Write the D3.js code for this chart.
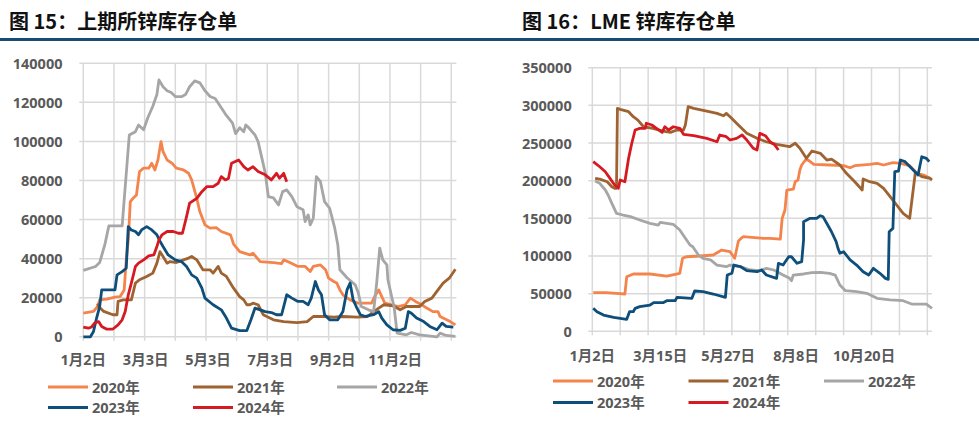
<!DOCTYPE html>
<html><head><meta charset="utf-8">
<script src="https://cdn.jsdelivr.net/npm/d3@7"></script>
<style>
html,body{margin:0;padding:0;background:#fff;}
svg{display:block;font-family:"Open Sans","Noto Sans CJK SC",sans-serif;}
</style></head>
<body>
<svg id="c" width="979" height="423"></svg>
<script>
// ---------- data ----------
const seriesNames = ["2020年","2021年","2022年","2023年","2024年"];
const seriesColors = ["#F4844C","#9E6331","#A6A6A6","#0E4E7B","#D51A22"];

// SHFE (day index from 1月2日, value)
const shfe2020 = [[0,12100],[10,13000],[14,15500],[16,18900],[23,19300],[31,20300],[36,20600],[40,24000],[42,39400],[44,49600],[46,69200],[49,71100],[52,72600],[55,84600],[59,86300],[64,86300],[67,88800],[70,85400],[73,90500],[76,99900],[78,94800],[82,90500],[87,88800],[91,86300],[98,85400],[103,83700],[106,80300],[111,70900],[114,64100],[119,57300],[124,55600],[130,55900],[135,53900],[144,52200],[147,47500],[153,43600],[163,41900],[166,42800],[173,38500],[186,38000],[194,37500],[196,39400],[202,38000],[210,36000],[217,36000],[222,33400],[225,36000],[232,36800],[237,34300],[240,30000],[245,28300],[248,27500],[251,24000],[254,21500],[261,18900],[269,17200],[277,17200],[282,17200],[285,20600],[289,24000],[292,20600],[295,17200],[302,16400],[308,15500],[315,16400],[320,19800],[325,18100],[331,16400],[336,14700],[342,12900],[347,12900],[349,10400],[352,9600],[359,7800],[364,6100]];
const shfe2021 = [[14,17000],[15,15500],[20,13000],[29,11300],[33,11300],[34,18100],[39,18900],[47,18900],[51,27500],[55,29200],[62,30900],[68,32600],[72,37700],[75,43600],[78,41100],[82,37700],[85,38500],[91,38000],[98,39400],[103,40300],[106,41100],[111,39400],[117,34300],[124,34300],[127,32600],[132,36000],[135,32600],[140,30900],[147,24900],[153,20600],[157,18900],[160,16400],[163,16400],[166,17200],[171,16400],[176,11300],[186,8700],[196,7800],[209,7300],[219,7800],[225,10400],[235,10400],[245,10100],[254,10400],[268,10100],[278,10400],[284,12900],[289,14700],[294,16400],[303,15900],[310,13800],[316,15500],[323,15500],[329,15500],[334,18100],[341,19800],[347,24000],[352,27500],[358,30000],[364,34600]];
const shfe2022 = [[0,34000],[12,36000],[16,38000],[21,47000],[25,56800],[38,56800],[45,103300],[51,105000],[54,108400],[59,106000],[63,112000],[68,118000],[72,124000],[74,131500],[78,128000],[82,126000],[86,125000],[90,123000],[96,122900],[100,124000],[104,128000],[109,131000],[114,130000],[119,126000],[124,123000],[129,122000],[134,118000],[139,114000],[146,109400],[149,104000],[153,107000],[157,105000],[159,108400],[161,107500],[168,103300],[171,99900],[178,83900],[181,71800],[186,71100],[191,67500],[195,74300],[199,75200],[204,71800],[209,66600],[215,65000],[217,59000],[220,62400],[222,57300],[225,60700],[228,82000],[232,79400],[236,69200],[241,65800],[246,55600],[249,47000],[251,34300],[258,30200],[266,26600],[269,22500],[272,15500],[279,13800],[284,12900],[287,27500],[290,45400],[293,39400],[297,36800],[298,29200],[302,19800],[304,15500],[307,1900],[316,1000],[321,2200],[329,1000],[346,0],[349,1900],[355,700],[364,200]];
const shfe2023 = [[0,0],[7,0],[10,2700],[13,9600],[16,15500],[18,24000],[26,24000],[31,24000],[33,31700],[38,33400],[42,35100],[44,56400],[47,54700],[51,53900],[54,52200],[57,54700],[62,56400],[67,54700],[72,52200],[75,49000],[78,46200],[83,41900],[90,39400],[96,38500],[101,36000],[106,31700],[111,30000],[116,24900],[119,19800],[127,16400],[135,13800],[140,9600],[145,4400],[153,3200],[160,3200],[164,8700],[168,14700],[173,13800],[178,12900],[184,12400],[189,11300],[194,11300],[199,21500],[204,19800],[210,18100],[215,18100],[220,16400],[223,19800],[227,28300],[230,24000],[233,21500],[236,11300],[241,8700],[249,8700],[254,12900],[258,24000],[261,27500],[264,18900],[267,15500],[271,11300],[276,10400],[284,11300],[289,12900],[292,9600],[297,6100],[303,3600],[310,3300],[315,4400],[318,12900],[321,12100],[326,9600],[333,7800],[339,5300],[346,3600],[351,7000],[355,5300],[362,5000]];
const shfe2024 = [[0,5000],[5,4400],[8,5000],[11,7000],[15,7800],[18,5300],[23,3900],[29,4000],[34,6100],[38,8700],[41,12900],[44,21500],[47,27500],[51,36000],[54,37700],[59,39400],[64,41400],[69,41900],[72,46200],[74,49600],[77,52200],[82,53900],[88,53900],[93,53000],[97,53000],[101,61500],[104,68400],[111,70900],[116,74300],[121,76900],[127,76900],[132,78600],[135,82000],[139,80300],[142,81000],[145,88800],[152,90500],[157,87100],[161,85400],[166,87100],[171,84600],[178,82900],[184,80300],[189,83700],[192,81200],[196,83700],[199,79400]];

// LME
const lme2020 = [[1,51300],[15,51300],[26,50400],[35,49500],[37,72500],[44,76100],[62,76100],[80,73400],[94,77000],[97,96900],[101,99000],[116,100000],[130,101300],[139,107900],[148,105700],[153,96900],[157,120000],[160,123500],[162,125600],[184,123500],[191,123500],[202,122500],[204,150000],[207,161000],[209,187600],[216,188900],[218,198600],[221,200900],[223,214200],[225,220800],[229,227400],[232,227400],[238,221700],[255,220800],[270,219900],[277,217200],[282,219900],[298,221700],[306,223000],[313,220800],[323,223900],[331,223000],[341,219900],[349,209800],[356,207500],[363,203100]];
const lme2021 = [[3,203100],[8,202000],[16,198600],[21,192000],[24,189900],[26,189900],[27,296100],[30,294700],[39,291600],[44,284900],[49,280500],[55,271600],[65,269500],[76,265900],[84,264200],[91,267300],[98,267300],[100,273900],[103,298200],[109,296100],[123,292500],[134,289400],[141,286200],[144,289400],[148,284900],[155,276200],[166,262900],[177,256200],[187,251700],[198,248300],[212,245100],[218,249600],[223,243000],[230,229700],[236,239400],[245,236300],[252,227400],[257,228500],[266,220800],[273,209800],[282,198600],[290,187600],[291,202200],[298,198600],[306,196500],[313,189900],[320,178700],[327,167700],[334,156700],[341,150000],[347,209800],[349,209800],[354,205300],[363,203100],[365,200900]];
const lme2022 = [[3,199600],[8,196500],[14,187600],[17,181000],[21,169900],[26,156700],[33,154400],[41,152200],[51,147800],[62,143400],[71,141100],[73,144700],[87,142100],[94,134500],[100,123500],[105,114600],[108,112300],[114,101300],[119,96900],[127,94700],[134,88000],[144,85800],[148,88000],[159,86000],[170,81400],[180,80500],[187,83600],[195,81400],[205,74700],[212,70300],[214,67100],[216,74700],[227,76100],[236,77800],[245,78300],[255,77000],[261,74700],[266,61500],[272,53900],[284,52600],[295,50400],[306,43800],[320,41600],[334,40600],[343,36200],[359,36200],[365,30500]];
const lme2023 = [[1,30500],[5,26000],[12,21600],[23,18600],[30,17300],[37,15900],[40,26000],[44,26000],[46,30500],[51,32700],[62,34900],[66,38000],[76,38000],[80,40600],[89,40600],[91,45100],[107,43800],[110,53500],[119,52600],[130,49500],[143,45100],[145,74700],[150,77000],[152,88000],[159,86000],[166,80500],[177,79100],[182,81400],[187,74700],[198,70300],[200,90300],[205,88000],[211,99000],[214,99000],[220,90300],[225,92500],[227,121200],[227,145500],[234,150000],[241,150000],[245,153500],[248,152000],[254,138900],[257,132200],[262,119000],[264,110200],[266,103600],[270,105700],[277,94700],[284,88000],[291,79100],[297,74700],[302,83600],[309,77000],[315,70300],[318,69000],[319,132200],[323,136700],[325,211900],[329,212800],[331,227400],[336,225200],[343,216400],[350,207500],[354,231800],[359,229700],[362,225200]];
const lme2024 = [[1,225200],[8,218500],[14,211900],[19,203100],[24,194200],[28,189900],[30,200900],[35,198600],[39,229700],[42,247400],[46,267300],[51,269500],[57,269500],[58,276200],[64,273900],[69,269500],[75,264200],[78,271600],[82,267300],[87,271600],[94,269500],[98,261500],[109,259700],[123,256200],[134,251700],[137,260600],[144,258400],[148,254000],[155,256200],[161,260600],[166,254000],[173,243000],[177,240700],[180,262900],[186,259700],[191,251700],[196,247400],[200,240700]];

const shfeYTicks = [0,20000,40000,60000,80000,100000,120000,140000];
const lmeYTicks = [0,50000,100000,150000,200000,250000,300000,350000];
const gridDays = [0,30,60,90,120,150,180,210,240,270,300,330,360];
const shfeLabelDays = [0,61,122,183,244,305];
const shfeLabels = ["1月2日","3月3日","5月3日","7月3日","9月2日","11月2日"];
const lmeLabelDays = [0,73,146,219,292];
const lmeLabels = ["1月2日","3月15日","5月27日","8月8日","10月20日"];

// ---------- drawing ----------
const svg = d3.select("#c");
const txtCol = "#595959", gridCol = "#D9D9D9";

svg.append("text").attr("x",9).attr("y",20).attr("dominant-baseline","central")
  .style("font-family","'Noto Sans CJK SC',sans-serif").style("font-weight",700).style("font-size","20px").attr("fill","#111")
  .text("图 15：上期所锌库存仓单");
svg.append("text").attr("x",522).attr("y",20).attr("dominant-baseline","central")
  .style("font-family","'Noto Sans CJK SC',sans-serif").style("font-weight",700).style("font-size","20px").attr("fill","#111")
  .text("图 16：LME 锌库存仓单");
svg.append("rect").attr("x",0).attr("y",38).attr("width",979).attr("height",3).attr("fill","#174B72");

function chart(cfg){
  const g = svg.append("g");
  const x = d3.scaleLinear().domain([0,365]).range(cfg.xr);
  const y = d3.scaleLinear().domain([0,cfg.ymax]).range(cfg.yr);
  // horizontal grid
  g.selectAll(".hg").data(cfg.yTicks).join("line")
    .attr("x1",cfg.xr[0]-4).attr("x2",cfg.xr[1]).attr("y1",d=>y(d)).attr("y2",d=>y(d))
    .attr("stroke",gridCol).attr("stroke-width",1.5);
  // vertical grid
  g.selectAll(".vg").data(gridDays).join("line")
    .attr("x1",d=>x(d)).attr("x2",d=>x(d)).attr("y1",cfg.yr[1]).attr("y2",cfg.yr[0]+4)
    .attr("stroke",gridCol).attr("stroke-width",1.5);
  // y labels
  g.selectAll(".yl").data(cfg.yTicks).join("text")
    .attr("x",cfg.ylx).attr("y",d=>y(d)).attr("text-anchor","end").attr("dominant-baseline","central")
    .attr("fill",txtCol).style("font-weight",700).style("font-size","14.5px").text(d=>d);
  // x labels
  g.selectAll(".xl").data(cfg.labelDays).join("text")
    .attr("x",d=>x(d)).attr("y",cfg.xly).attr("text-anchor","middle").attr("dominant-baseline","central")
    .attr("fill",txtCol).style("font-weight",700).style("font-size","14.5px").text((d,i)=>cfg.labels[i]);
  // lines
  const line = d3.line().x(d=>x(d[0])).y(d=>y(d[1]));
  cfg.series.forEach((s,i)=>{
    g.append("path").datum(s).attr("d",line).attr("fill","none")
      .attr("stroke",seriesColors[i]).attr("stroke-width",2.8).attr("stroke-linejoin","round");
  });
  // legend
  const pos = [[0,0],[1,0],[2,0],[0,1],[1,1]];
  seriesNames.forEach((n,i)=>{
    const lx = cfg.legX[pos[i][0]], ly = cfg.legY[pos[i][1]];
    g.append("line").attr("x1",lx).attr("x2",lx+40).attr("y1",ly).attr("y2",ly)
      .attr("stroke",seriesColors[i]).attr("stroke-width",3);
    g.append("text").attr("x",lx+44).attr("y",ly).attr("dominant-baseline","central")
      .attr("fill",txtCol).style("font-weight",700).style("font-size","14.5px").text(n);
  });
}

chart({xr:[83.3,456.4], yr:[336.8,63.3], ymax:140000, yTicks:shfeYTicks, ylx:62.5, xly:359.5,
  labelDays:shfeLabelDays, labels:shfeLabels, series:[shfe2020,shfe2021,shfe2022,shfe2023,shfe2024],
  legX:[48,193,337], legY:[387,407.5]});
chart({xr:[592.3,932], yr:[331.3,67.7], ymax:350000, yTicks:lmeYTicks, ylx:571.7, xly:355,
  labelDays:lmeLabelDays, labels:lmeLabels, series:[lme2020,lme2021,lme2022,lme2023,lme2024],
  legX:[553,688.5,824], legY:[381,402.5]});
</script>
</body></html>
